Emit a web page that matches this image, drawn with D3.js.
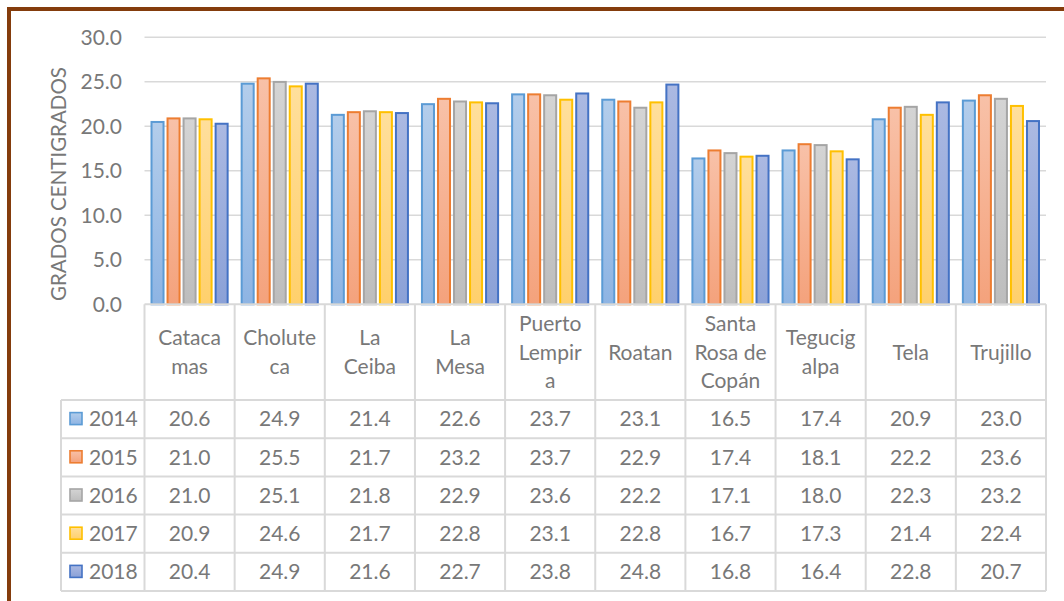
<!DOCTYPE html>
<html>
<head>
<meta charset="utf-8">
<script src="https://cdn.jsdelivr.net/npm/d3@7"></script>
<style>
html, body { margin: 0; padding: 0; background: #fff; }
svg { display: block; }
text { font-family: Lato, "Open Sans", sans-serif; fill: #787878; }
</style>
</head>
<body>
<svg id="chart" width="1064" height="601"></svg>
<script>
const categories = ["Catacamas", "Choluteca", "La Ceiba", "La Mesa", "Puerto Lempira", "Roatan", "Santa Rosa de Copán", "Tegucigalpa", "Tela", "Trujillo"];
const categoryLabelLines = [["Cataca", "mas"], ["Cholute", "ca"], ["La", "Ceiba"], ["La", "Mesa"], ["Puerto", "Lempir", "a"], ["Roatan"], ["Santa", "Rosa de", "Copán"], ["Tegucig", "alpa"], ["Tela"], ["Trujillo"]];
const seriesNames = ["2014", "2015", "2016", "2017", "2018"];
const values2014 = [20.6, 24.9, 21.4, 22.6, 23.7, 23.1, 16.5, 17.4, 20.9, 23.0];
const values2015 = [21.0, 25.5, 21.7, 23.2, 23.7, 22.9, 17.4, 18.1, 22.2, 23.6];
const values2016 = [21.0, 25.1, 21.8, 22.9, 23.6, 22.2, 17.1, 18.0, 22.3, 23.2];
const values2017 = [20.9, 24.6, 21.7, 22.8, 23.1, 22.8, 16.7, 17.3, 21.4, 22.4];
const values2018 = [20.4, 24.9, 21.6, 22.7, 23.8, 24.8, 16.8, 16.4, 22.8, 20.7];
const yTicks = [0, 5, 10, 15, 20, 25, 30];
const yTitle = "GRADOS CENTIGRADOS";

const seriesValues = [values2014, values2015, values2016, values2017, values2018];
const strokeColors = ["#5b9bd5", "#ed7d31", "#a5a5a5", "#ffc000", "#4472c4"];
const fillTop = ["#b3cdeb", "#f8c1a8", "#d4d4d4", "#ffdf9c", "#abb9e2"];
const fillBottom = ["#8eb4e3", "#f4a27c", "#bdbdbd", "#ffd06c", "#8ba1d7"];

const svg = d3.select("#chart");
const grid = "#d9d9d9";
const fs = 21;

const plotLeft = 144.5, plotRight = 1046, plotTop = 37.3, plotBottom = 304.3;
const tableLeft = 61, catRowBottom = 400, rowH = 38.2;

const x = d3.scaleBand().domain(categories).range([plotLeft, plotRight]).paddingInner(0).paddingOuter(0);
const xs = d3.scaleBand().domain(seriesNames).range([0, x.bandwidth()]).paddingInner(0.125).paddingOuter(0.375);
const y = d3.scaleLinear().domain([0, 30]).range([plotBottom, plotTop]);

// gradients
const defs = svg.append("defs");
seriesNames.forEach((s, i) => {
  const g = defs.append("linearGradient").attr("id", "g" + i).attr("x1", 0).attr("y1", 0).attr("x2", 0).attr("y2", 1);
  g.append("stop").attr("offset", "0%").attr("stop-color", fillTop[i]);
  g.append("stop").attr("offset", "100%").attr("stop-color", fillBottom[i]);
});

// brown frame
svg.append("rect").attr("x", 7).attr("y", 7).attr("width", 1064 - 7).attr("height", 4).attr("fill", "#843c0c");
svg.append("rect").attr("x", 7).attr("y", 7).attr("width", 4).attr("height", 601 - 7).attr("fill", "#843c0c");

// gridlines
svg.append("g").selectAll("line").data(yTicks.filter(d => d > 0)).join("line")
  .attr("x1", plotLeft).attr("x2", plotRight)
  .attr("y1", d => y(d)).attr("y2", d => y(d))
  .attr("stroke", grid).attr("stroke-width", 1.6);

// y axis labels
const yAxis = d3.axisLeft(y).tickValues(yTicks).tickFormat(d3.format(".1f")).tickSize(0).tickPadding(0);
const yg = svg.append("g").attr("transform", `translate(122,0)`).call(yAxis);
yg.select(".domain").remove();
yg.selectAll("text").attr("font-size", fs).attr("fill", "#787878").style("font-family", "Lato, sans-serif");

// y title
svg.append("text").attr("transform", `translate(66,184) rotate(-90)`)
  .attr("text-anchor", "middle").attr("font-size", 20.5).text(yTitle);

// bars
const groups = svg.append("g").selectAll("g").data(categories).join("g")
  .attr("transform", d => `translate(${x(d)},0)`);
groups.selectAll("rect").data((c, ci) => seriesNames.map((s, si) => ({ s, si, v: seriesValues[si][ci] }))).join("rect")
  .attr("x", d => xs(d.s) + 1)
  .attr("width", xs.bandwidth() - 2)
  .attr("y", d => y(d.v) + 1)
  .attr("height", d => y(0) - y(d.v) - 1)
  .attr("fill", d => `url(#g${d.si})`)
  .attr("stroke", d => strokeColors[d.si])
  .attr("stroke-width", 2);

// table lines
const tl = svg.append("g").attr("stroke", grid).attr("stroke-width", 2).attr("fill", "none");
tl.append("line").attr("x1", plotLeft).attr("x2", plotRight).attr("y1", plotBottom).attr("y2", plotBottom);
d3.range(6).forEach(r => {
  const yy = catRowBottom + r * rowH;
  tl.append("line").attr("x1", tableLeft).attr("x2", plotRight).attr("y1", yy).attr("y2", yy);
});
const tableBottom = catRowBottom + 5 * rowH;
tl.append("line").attr("x1", tableLeft).attr("x2", tableLeft).attr("y1", catRowBottom).attr("y2", tableBottom);
categories.forEach(c => {
  tl.append("line").attr("x1", x(c)).attr("x2", x(c)).attr("y1", plotBottom).attr("y2", tableBottom);
});
tl.append("line").attr("x1", plotRight).attr("x2", plotRight).attr("y1", plotBottom).attr("y2", tableBottom);

// category labels
const lineH = 28.5;
const catMid = (plotBottom + catRowBottom) / 2;
categories.forEach((c, ci) => {
  const lines = categoryLabelLines[ci];
  const t = svg.append("text").attr("text-anchor", "middle").attr("font-size", fs)
    .attr("x", x(c) + x.bandwidth() / 2);
  lines.forEach((ln, li) => {
    t.append("tspan").attr("x", x(c) + x.bandwidth() / 2)
      .attr("y", catMid + (li - (lines.length - 1) / 2) * lineH)
      .attr("dy", "0.35em").text(ln);
  });
});

// table rows
const fmt = d3.format(".1f");
seriesNames.forEach((s, si) => {
  const cy = catRowBottom + si * rowH + rowH / 2;
  svg.append("rect").attr("x", 70).attr("y", cy - 6.5).attr("width", 12).attr("height", 12)
    .attr("fill", `url(#g${si})`).attr("stroke", strokeColors[si]).attr("stroke-width", 1.6);
  svg.append("text").attr("x", 89).attr("y", cy).attr("dy", "0.35em").attr("font-size", fs).text(s);
  categories.forEach((c, ci) => {
    svg.append("text").attr("x", x(c) + x.bandwidth() / 2).attr("y", cy).attr("dy", "0.35em")
      .attr("text-anchor", "middle").attr("font-size", fs).text(fmt(seriesValues[si][ci]));
  });
});
</script>
</body>
</html>
